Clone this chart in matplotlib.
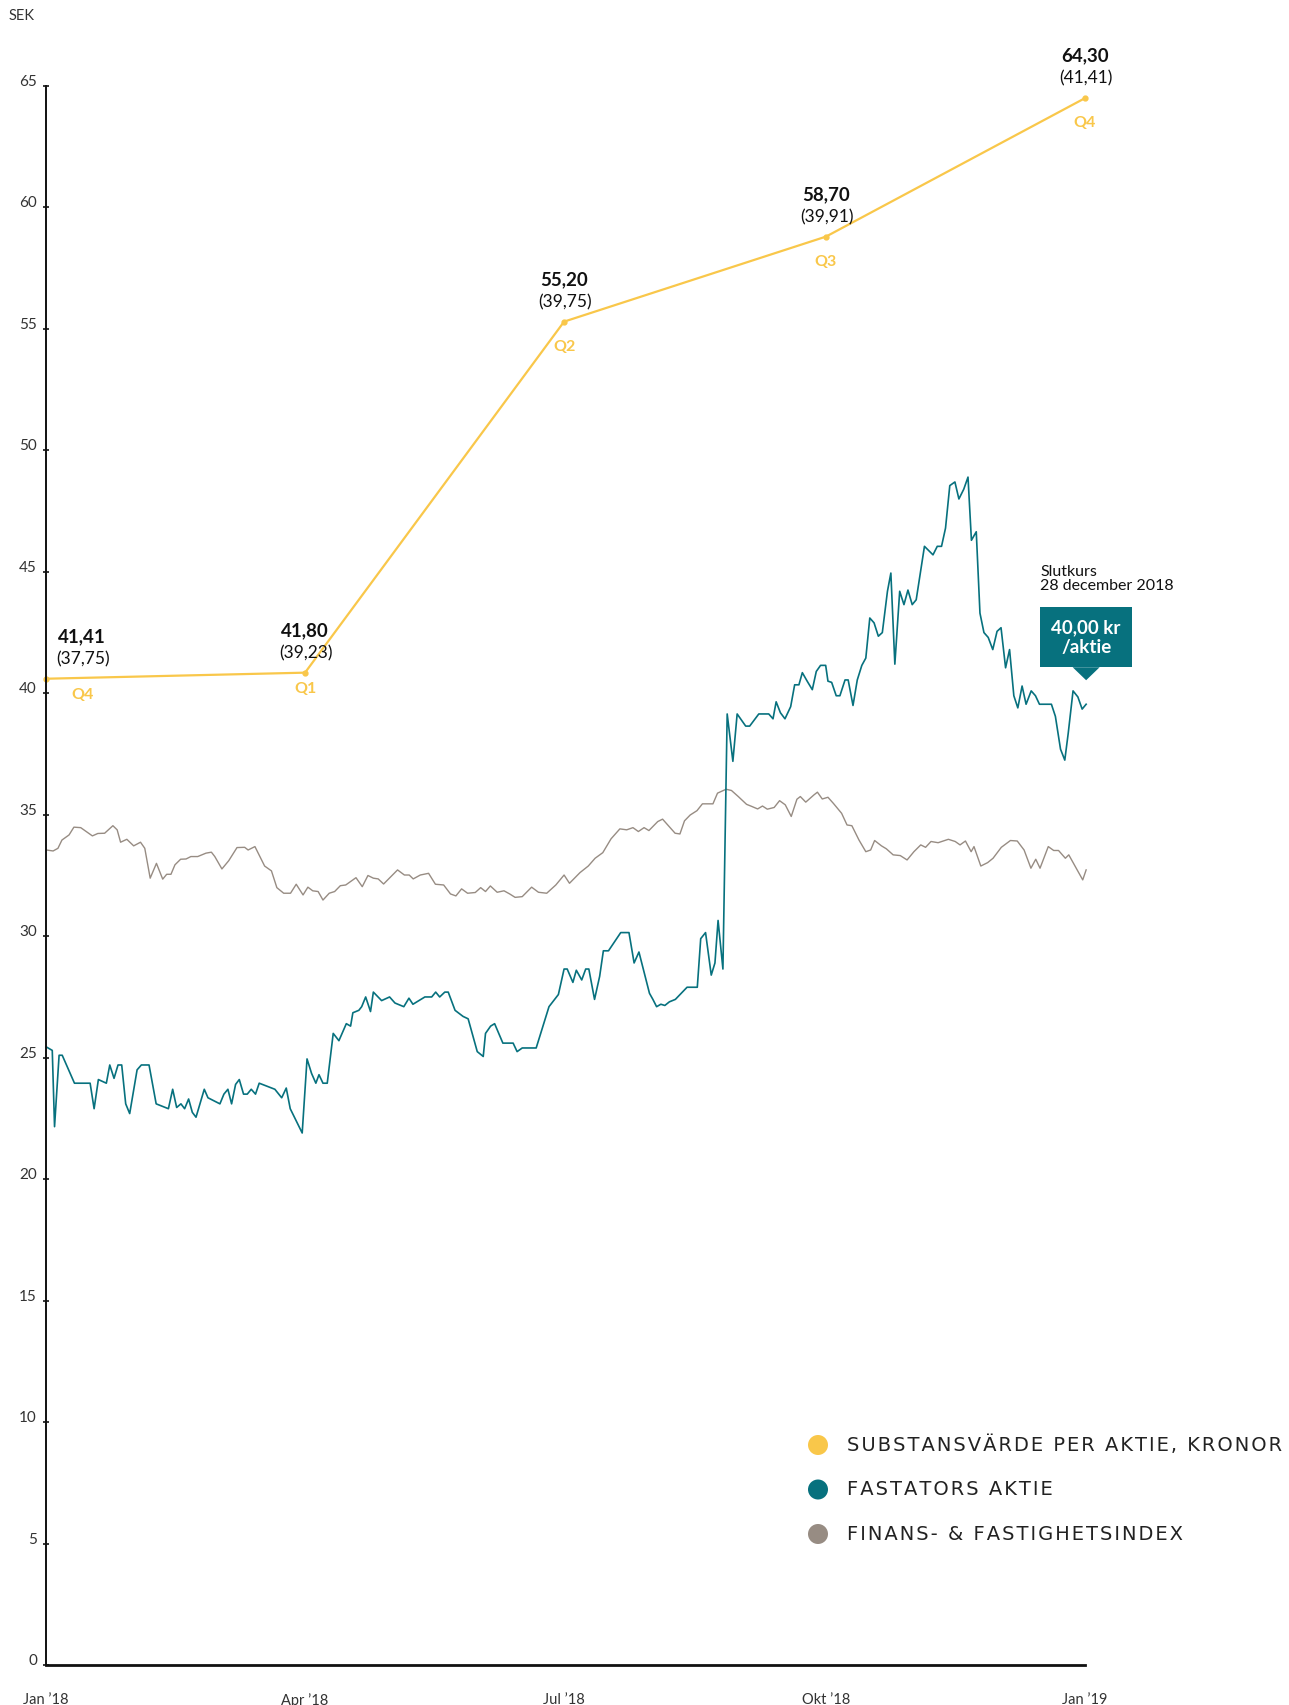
import matplotlib
matplotlib.use('Agg')
import matplotlib.pyplot as plt
from matplotlib.patches import Rectangle, Polygon, Circle
from matplotlib.transforms import IdentityTransform

W, H = 1289, 1705

YELLOW = '#F9C74A'
TEAL = '#07717E'
GREY = '#978C83'

# Substansvärde per aktie (quarter points), as plotted
nav_days = [0, 91, 182, 274, 365]
nav_values = [40.6, 40.85, 55.3, 58.8, 64.5]
nav_labels = ['41,41', '41,80', '55,20', '58,70', '64,30']
nav_prev = ['(37,75)', '(39,23)', '(39,75)', '(39,91)', '(41,41)']
nav_quarters = ['Q4', 'Q1', 'Q2', 'Q3', 'Q4']

# Fastators aktie, days since 1 Jan 2018
share_days = [0, 2.2, 3, 4.6, 5.7, 10, 15.5, 16.9, 18.4, 21.2, 22.4, 23.9, 25.3, 26.6, 28, 29.4, 32, 33.5,
              36.2, 38.7, 43, 44.5, 45.9, 47.4, 48.7, 50.1, 51.4, 52.7, 55.6, 56.9, 61.1, 62.5, 63.9, 65.2,
              66.6, 67.9, 69.4, 70.7, 72.1, 73.6, 74.9, 80.4, 82.8, 84.4, 85.8, 90, 91.7, 93.3, 94.8, 95.9,
              97.3, 98.8, 100.9, 102.9, 105.5, 107, 107.8, 109.9, 110.9, 112.3, 114, 115, 117.9, 120.7,
              122.6, 125.7, 127.5, 128.9, 131, 133.1, 135.5, 136.9, 138.3, 140.1, 141.3, 143.7, 144.8,
              146.5, 148.3, 151.5, 153.6, 154.4, 156.2, 157.6, 160.5, 164.1, 165.5, 167.3, 172.2, 176.7,
              180, 182, 183.1, 185.1, 186.3, 188.2, 189.6, 190.7, 192.7, 194.5, 195.8, 197.6, 201.9, 204.8,
              206.6, 208.3, 212, 213.2, 214.5, 216, 217.4, 219, 221.1, 225.2, 228.8, 230, 231.7, 233.7, 235,
              236.1, 237.8, 239.3, 241.3, 242.8, 245.8, 247.2, 250.4, 253.9, 255.4, 256.5, 258, 259.6,
              261.6, 263, 264.5, 265.7, 267.4, 269.2, 270.6, 272.1, 273.9, 274.7, 276, 277.6, 278.9, 280.7,
              281.8, 283.5, 285, 286.6, 288, 289.4, 290.9, 292.4, 293.8, 295.6, 296.8, 298.2, 299.9, 301.4,
              302.8, 304.3, 305.7, 308.6, 311.6, 313.1, 314.6, 316, 317.5, 319.3, 320.7, 322.4, 323.9,
              325.1, 326.8, 328.1, 329.5, 331, 332.6, 334.1, 335.5, 337.1, 338.5, 340, 341.4, 342.9, 344.3,
              346.1, 347.6, 349, 353.2, 354.6, 356.4, 357.9, 359.1, 360.8, 362.5, 364, 365.4]
share_values = [25.45, 25.3, 22.16, 25.1, 25.1, 23.95, 23.95, 22.9, 24.1, 23.95, 24.7, 24.15, 24.7, 24.7,
                23.1, 22.7, 24.5, 24.7, 24.7, 23.1, 22.9, 23.7, 22.95, 23.1, 22.9, 23.3, 22.75, 22.55,
                23.7, 23.35, 23.1, 23.5, 23.7, 23.1, 23.9, 24.1, 23.5, 23.5, 23.7, 23.5, 23.95, 23.7,
                23.35, 23.75, 22.9, 21.9, 24.95, 24.35, 23.95, 24.3, 23.95, 23.95, 26.0, 25.7, 26.4,
                26.3, 26.85, 26.95, 27.1, 27.5, 26.9, 27.7, 27.35, 27.5, 27.25, 27.1, 27.45, 27.2, 27.35,
                27.5, 27.5, 27.7, 27.5, 27.7, 27.7, 26.95, 26.85, 26.7, 26.6, 25.25, 25.05, 26.0, 26.3,
                26.4, 25.6, 25.6, 25.25, 25.4, 25.4, 27.1, 27.6, 28.65, 28.65, 28.1, 28.6, 28.2, 28.65,
                28.65, 27.4, 28.35, 29.4, 29.4, 30.15, 30.15, 28.9, 29.35, 27.65, 27.4, 27.1, 27.2, 27.15,
                27.3, 27.4, 27.9, 27.9, 29.9, 30.15, 28.4, 28.9, 30.65, 28.65, 39.15, 37.2, 39.15, 38.65,
                38.65, 39.15, 39.15, 38.95, 39.65, 39.2, 38.95, 39.45, 40.35, 40.35, 40.85, 40.5, 40.15,
                40.9, 41.15, 41.15, 40.5, 40.45, 39.9, 39.9, 40.55, 40.55, 39.5, 40.55, 41.15, 41.45,
                43.1, 42.9, 42.35, 42.5, 44.2, 44.95, 41.2, 44.2, 43.65, 44.25, 43.65, 43.85, 46.05, 45.7,
                46.05, 46.05, 46.8, 48.55, 48.7, 48.0, 48.4, 48.9, 46.3, 46.65, 43.3, 42.5, 42.3, 41.8,
                42.55, 42.7, 41.05, 41.8, 39.9, 39.4, 40.3, 39.55, 40.1, 39.9, 39.55, 39.55, 39.05, 37.7,
                37.25, 38.35, 40.1, 39.85, 39.35, 39.55]

# Finans- & fastighetsindex
index_days = [0.1, 2.5, 4.2, 5.6, 8.1, 9.8, 12.2, 16.3, 18.2, 20.6, 23.5, 25, 26.2, 28.4, 30.8, 33.2, 34.7,
              36.6, 38.8, 41, 42.4, 43.9, 45.3, 47.3, 49.2, 50.9, 53.3, 56.2, 58.1, 59.3, 61.8, 64.2, 67.1,
              69.8, 71, 73.4, 76.8, 79.2, 81.1, 83.5, 85.9, 87.9, 90.3, 92, 93.7, 95.6, 97.3, 99.5, 101.4,
              103.4, 105.3, 108.9, 111.1, 113.1, 115, 116.7, 118.6, 123.5, 125.9, 127.6, 129, 131.5, 134.4,
              136.8, 139.7, 142.1, 144, 146, 148.1, 150.8, 152.7, 154.4, 156.1, 158.5, 160.9, 162.9, 164.8,
              167.3, 170.6, 173, 175.9, 179.1, 182, 183.9, 187.6, 190.5, 192.9, 195.6, 198.5, 201.6, 204,
              206.2, 208.1, 210.1, 211.8, 214.9, 216.6, 221, 222.7, 224.3, 226.3, 228.7, 230.6, 234.3,
              235.9, 238.9, 240.8, 243.2, 246.1, 248, 250, 251.7, 253.4, 255.8, 257.7, 259.7, 261.8, 263.8,
              265, 266.9, 269.8, 271, 272.7, 274.7, 276.6, 279.5, 281.4, 283.1, 285.6, 288, 289.7, 291.1,
              293.5, 295.2, 297.6, 300.1, 302.5, 304.9, 307.3, 309, 310.9, 313.4, 317, 319.4, 321.1, 323,
              325, 326, 328.4, 330.8, 332.7, 335.6, 338.8, 341.2, 343.6, 346, 347.7, 349.2, 352.1, 354,
              355.7, 358.1, 359.3, 364.2, 365.4]
index_values = [33.55, 33.51, 33.62, 33.96, 34.17, 34.49, 34.47, 34.13, 34.23, 34.24, 34.55, 34.38, 33.87,
                33.99, 33.72, 33.87, 33.62, 32.39, 33.0, 32.35, 32.55, 32.55, 32.94, 33.17, 33.18, 33.28,
                33.28, 33.42, 33.46, 33.28, 32.77, 33.11, 33.65, 33.66, 33.55, 33.69, 32.89, 32.69, 32.0,
                31.77, 31.77, 32.14, 31.7, 32.02, 31.87, 31.84, 31.49, 31.77, 31.84, 32.08, 32.11, 32.41,
                32.04, 32.5, 32.39, 32.36, 32.15, 32.73, 32.52, 32.52, 32.36, 32.52, 32.59, 32.14, 32.11,
                31.74, 31.66, 31.95, 31.77, 31.8, 32.0, 31.84, 32.07, 31.81, 31.87, 31.74, 31.6, 31.63,
                32.02, 31.81, 31.77, 32.11, 32.52, 32.18, 32.62, 32.89, 33.21, 33.44, 34.01, 34.42, 34.38,
                34.47, 34.31, 34.47, 34.35, 34.72, 34.82, 34.24, 34.21, 34.75, 34.99, 35.17, 35.45, 35.45,
                35.89, 36.05, 36.0, 35.75, 35.43, 35.34, 35.24, 35.36, 35.23, 35.3, 35.58, 35.41, 34.93,
                35.64, 35.75, 35.52, 35.82, 35.93, 35.65, 35.72, 35.47, 35.06, 34.58, 34.55, 33.96, 33.48,
                33.55, 33.94, 33.72, 33.6, 33.35, 33.32, 33.14, 33.48, 33.76, 33.66, 33.9, 33.85, 33.99,
                33.9, 33.76, 33.92, 33.48, 33.69, 32.89, 33.03, 33.21, 33.66, 33.94, 33.92, 33.55, 32.8,
                33.17, 32.8, 33.69, 33.53, 33.53, 33.21, 33.35, 32.32, 32.73]

close_label = '40,00 kr\n/aktie'
close_note = 'Slutkurs\n28 december 2018'

month_days = [0, 91, 182, 274, 365]
month_labels = ['Jan \u201918', 'Apr \u201918', 'Jul \u201918', 'Okt \u201918', 'Jan \u201919']
y_ticks = list(range(0, 70, 5))

legend_labels = ['SUBSTANSVÄRDE PER AKTIE, KRONOR', 'FASTATORS AKTIE', 'FINANS- & FASTIGHETSINDEX']
legend_colors = [YELLOW, TEAL, GREY]

plt.rcParams['font.family'] = ['Lato', 'DejaVu Sans']

fig = plt.figure(figsize=(W / 100, H / 100), dpi=100)
ax = fig.add_axes([46 / W, 40 / H, (1085 - 46) / W, (1665 - 86) / H])
ax.set_xlim(0, 365)
ax.set_ylim(0, 65)

ax.plot(index_days, index_values, color=GREY, lw=1.0, clip_on=False)
ax.plot(share_days, share_values, color=TEAL, lw=1.2, clip_on=False)
ax.plot(nav_days, nav_values, color=YELLOW, lw=1.6, marker='o', ms=3.5, clip_on=False)

# value labels at each quarter point
for i, (d, v) in enumerate(zip(nav_days, nav_values)):
    dx = 26 if i == 0 else 0
    q_dy = -11.5 if i < 2 else -18
    ax.annotate(nav_labels[i], (d, v), xytext=(dx, 30.5), textcoords='offset points',
                ha='center', va='center', fontsize=13.5, fontweight='bold', color='#111111')
    ax.annotate(nav_prev[i], (d, v), xytext=(dx + 1, 14), textcoords='offset points',
                ha='center', va='center', fontsize=12.5, color='#111111')
    ax.annotate(nav_quarters[i], (d, v), xytext=(dx, q_dy), textcoords='offset points',
                ha='center', va='center', fontsize=11.5, fontweight='bold', color=YELLOW)

# axes styling
for side in ['top', 'right']:
    ax.spines[side].set_visible(False)
ax.spines['left'].set_linewidth(1.4)
ax.spines['bottom'].set_linewidth(2.0)
ax.spines['left'].set_color('#111111')
ax.spines['bottom'].set_color('#111111')
ax.set_yticks(y_ticks)
ax.set_yticklabels([str(t) for t in y_ticks])
ax.tick_params(axis='y', direction='inout', length=5, width=1.1, pad=4, labelsize=11, labelcolor='#333333')
for lbl in ax.get_yticklabels():
    lbl.set_va('baseline')
ax.set_xticks(month_days)
ax.set_xticklabels(month_labels)
ax.tick_params(axis='x', length=0, pad=20, labelsize=10.5, labelcolor='#333333')

fig.text(9 / W, 1 - 16 / H, 'SEK', ha='left', va='center', fontsize=10.5, color='#333333')

# callout for closing price
px = IdentityTransform()
tip_x, tip_y = ax.transData.transform((share_days[-1], share_values[-1]))
tip_y += 24
box_w, box_h, arrow_h = 92, 60, 13
fig.patches.append(Polygon([(tip_x - 13.5, tip_y + arrow_h), (tip_x + 13.5, tip_y + arrow_h), (tip_x, tip_y)],
                           closed=True, facecolor=TEAL, edgecolor='none', transform=px, figure=fig))
fig.patches.append(Rectangle((tip_x - box_w / 2, tip_y + arrow_h), box_w, box_h, facecolor=TEAL,
                             edgecolor='none', transform=px, figure=fig))
fig.text(tip_x, tip_y + arrow_h + box_h / 2, close_label, transform=px, ha='center', va='center',
         fontsize=13.5, fontweight='bold', color='white', linespacing=1.2)
fig.text(tip_x - box_w / 2, tip_y + arrow_h + box_h + 14, close_note, transform=px, ha='left',
         va='bottom', fontsize=11.5, color='#111111', linespacing=1.0)

# legend, letter-spaced with hair spaces
for i, (lab, col) in enumerate(zip(legend_labels, legend_colors)):
    cy = H - (1445 + i * 44.5)
    fig.patches.append(Circle((818, cy), 10, facecolor=col, edgecolor='none', transform=px, figure=fig))
    fig.text(847, cy, '\u200a'.join(lab), transform=px, ha='left', va='center', fontsize=14,
             color='#222222', family=['DejaVu Sans'])

fig.savefig('out.png', dpi=100)
